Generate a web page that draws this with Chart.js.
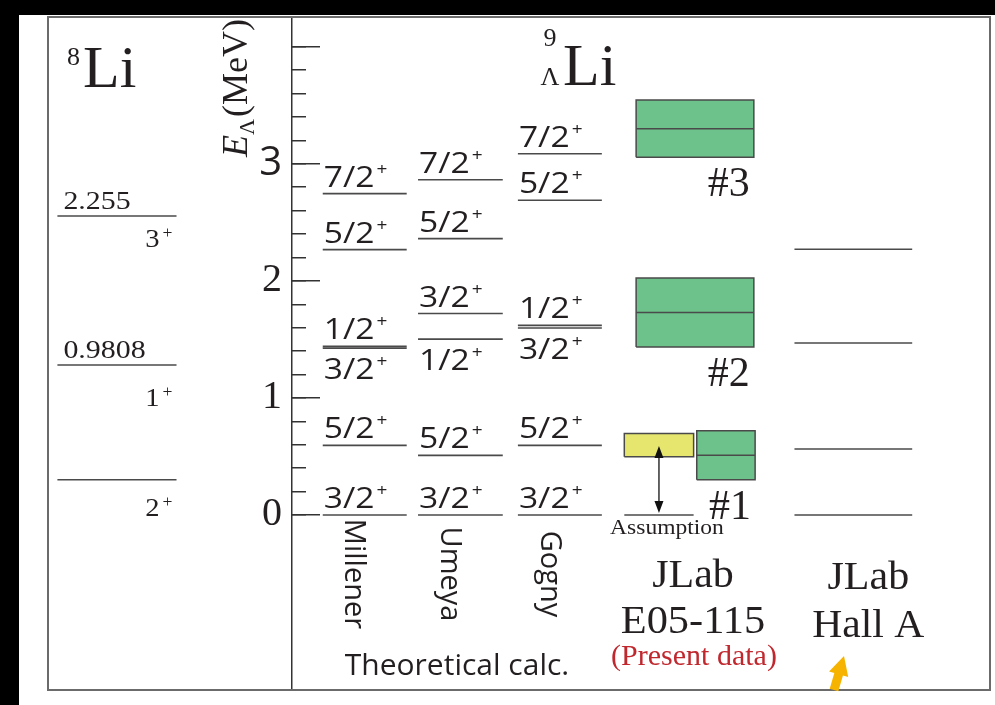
<!DOCTYPE html>
<html>
<head>
<meta charset="utf-8">
<title>9ΛLi level scheme</title>
<script src="https://cdn.jsdelivr.net/npm/chart.js@4.4.1/dist/chart.umd.min.js"></script>
<style>
  html, body { margin: 0; padding: 0; background: #000; }
  canvas { display: block; }
</style>
</head>
<body>
<canvas id="grafico" width="995" height="705"></canvas>
<script>
// ===== Data (MeV) =====
const li8Energy = [0, 0.9808, 2.255];
const li8Spin = ['2+', '1+', '3+'];
const li8Value = ['', '0.9808', '2.255'];
const li8Shift = 0.30; // the 8Li core scheme is drawn shifted up

const theoryNames = ['Millener', 'Umeya', 'Gogny'];
const millenerE = [0, 0.595, 1.425, 1.440, 2.267, 2.745];
const millenerJ = ['3/2+', '5/2+', '3/2+', '1/2+', '5/2+', '7/2+'];
const umeyaE = [0, 0.509, 1.502, 1.721, 2.361, 2.864];
const umeyaJ = ['3/2+', '5/2+', '1/2+', '3/2+', '5/2+', '7/2+'];
const gognyE = [0, 0.595, 1.597, 1.620, 2.688, 3.086];
const gognyJ = ['3/2+', '5/2+', '3/2+', '1/2+', '5/2+', '7/2+'];

const peakNames = ['#1', '#2', '#3'];
const peakE = [0.51, 1.73, 3.30];
const peakErr = [0.21, 0.295, 0.245];
const assumedE = 0.597;
const assumedErr = 0.10;

const hallAE = [0, 0.563, 1.470, 2.270];

const majorTicks = [0, 1, 2, 3, 4];
const majorLabels = ['0', '1', '2', '3', ''];
const minorTicks = [0, 0.2, 0.4, 0.6, 0.8, 1, 1.2, 1.4, 1.6, 1.8, 2, 2.2, 2.4, 2.6, 2.8, 3, 3.2, 3.4, 3.6, 3.8, 4];

// ===== Layout (column positions in x-scale units) =====
const FRAME_LEFT = 48;
const li8Col = { x: -1.543, half: 0.61 };
const theoryCols = [{ x: 0.995, half: 0.43 }, { x: 1.975, half: 0.434 }, { x: 2.994, half: 0.43 }];
const theorySide = ['up', 'up', 'down', 'up', 'up', 'up'];
const li8SpinDy = [36, 41, 31];
const jlabX = 4.378, wideHalf = 0.603;
const peak1 = { x: 4.695, half: 0.299 };
const yellow = { x: 4.009, half: 0.355 };
const hallAX = 6.0;

const INK = '#231f20';
const LEVEL = '#4a4a4a';
const GREEN = '#6cc28a';
const YELLOW = '#e6e66e';

// ===== Datasets =====
const datasets = [];
function addLevel(xc, half, e, width = 1.7) {
  datasets.push({
    data: [{ x: xc - half, y: e }, { x: xc + half, y: e }],
    borderColor: LEVEL, borderWidth: width, pointRadius: 0, clip: false, order: 1
  });
}
function addBox(xc, half, e, err, color) {
  datasets.push({
    data: [
      { x: xc - half, y: e - err }, { x: xc + half, y: e - err },
      { x: xc + half, y: e + err }, { x: xc - half, y: e + err },
      { x: xc - half, y: e - err }
    ],
    borderColor: '#4a4a4a', borderWidth: 1.5, backgroundColor: color,
    fill: 'shape', pointRadius: 0, order: 2
  });
}

li8Energy.forEach(e => addLevel(li8Col.x, li8Col.half, e + li8Shift, 1.5));
[millenerE, umeyaE, gognyE].forEach((arr, c) => {
  arr.forEach(e => addLevel(theoryCols[c].x, theoryCols[c].half, e, 1.6));
});
peakE.forEach((e, i) => {
  const col = i === 0 ? peak1 : { x: jlabX, half: wideHalf };
  addBox(col.x, col.half, e, peakErr[i], GREEN);
  addLevel(col.x, col.half, e, 1.4);
});
addBox(yellow.x, yellow.half, assumedE, assumedErr, YELLOW);
addLevel(yellow.x, yellow.half, 0, 1.5);
hallAE.forEach(e => addLevel(hallAX, wideHalf, e, 1.5));

// ===== Text helpers =====
function txt(ctx, s, x, y, font, o = {}) {
  ctx.save();
  ctx.translate(x, y);
  if (o.rot) ctx.rotate(o.rot);
  ctx.scale(o.sx || 1, 1);
  ctx.font = font;
  ctx.fillStyle = o.color || INK;
  ctx.textAlign = o.align || 'left';
  ctx.textBaseline = o.base || 'alphabetic';
  ctx.fillText(s, 0, 0);
  const w = ctx.measureText(s).width * (o.sx || 1);
  ctx.restore();
  return w;
}
function spinLabel(ctx, s, x, y, st, align) {
  const main = s.slice(0, -1), sign = s.slice(-1);
  ctx.save();
  ctx.font = st.font; const wm = ctx.measureText(main).width * st.sx;
  ctx.font = st.sup; const ws = ctx.measureText(sign).width * st.sx;
  ctx.restore();
  const x0 = align === 'right' ? x - wm - st.gap - ws : x;
  txt(ctx, main, x0, y, st.font, { sx: st.sx });
  txt(ctx, sign, x0 + wm + st.gap, y - st.raise, st.sup, { sx: st.sx });
}
const sansSpin = { font: '30px "Open Sans"', sup: '17px "Open Sans"', sx: 1.12, gap: 2, raise: 12 };
const serifSpin = { font: '26px "Liberation Serif"', sup: '16px "Liberation Serif"', sx: 1.1, gap: 3, raise: 9 };

function arrow(ctx, x0, y0, x1, y1, headLen, headHalf, shaftHalf, color) {
  const dx = x1 - x0, dy = y1 - y0, L = Math.hypot(dx, dy);
  const ux = dx / L, uy = dy / L, nx = -uy, ny = ux;
  const bx = x1 - ux * headLen, by = y1 - uy * headLen;
  ctx.save();
  ctx.fillStyle = color;
  ctx.beginPath();
  ctx.moveTo(x0 + nx * shaftHalf, y0 + ny * shaftHalf);
  ctx.lineTo(bx + nx * shaftHalf, by + ny * shaftHalf);
  ctx.lineTo(bx + nx * headHalf, by + ny * headHalf);
  ctx.lineTo(x1, y1);
  ctx.lineTo(bx - nx * headHalf, by - ny * headHalf);
  ctx.lineTo(bx - nx * shaftHalf, by - ny * shaftHalf);
  ctx.lineTo(x0 - nx * shaftHalf, y0 - ny * shaftHalf);
  ctx.closePath();
  ctx.fill();
  ctx.restore();
}

// ===== Plugin: background, frame and annotations =====
const decor = {
  id: 'decor',
  beforeDraw(chart) {
    const { ctx, width, height } = chart;
    ctx.save();
    ctx.fillStyle = '#000';
    ctx.fillRect(0, 0, width, height);
    ctx.fillStyle = '#fff';
    ctx.fillRect(19, 15, width - 19, height - 15);
    ctx.restore();
  },
  afterDraw(chart) {
    const { ctx, chartArea: ca, scales: { x, y } } = chart;
    const px = v => x.getPixelForValue(v), py = v => y.getPixelForValue(v);

    // frame
    ctx.save();
    ctx.strokeStyle = '#6b6b6b';
    ctx.lineWidth = 2;
    ctx.strokeRect(FRAME_LEFT, ca.top, ca.right - FRAME_LEFT, ca.bottom - ca.top);
    ctx.restore();

    // 8Li
    txt(ctx, '8', 67, 65, '26px "Liberation Serif"');
    txt(ctx, 'Li', 83, 87, '60px "Liberation Serif"');
    const l8L = px(li8Col.x - li8Col.half), l8R = px(li8Col.x + li8Col.half);
    li8Energy.forEach((e, i) => {
      const yy = py(e + li8Shift);
      if (li8Value[i]) txt(ctx, li8Value[i], l8L + 6, yy - 7, '26px "Liberation Serif"', { sx: 1.15 });
      spinLabel(ctx, li8Spin[i], l8R - 4, yy + li8SpinDy[i], serifSpin, 'right');
    });

    // axis title E_Λ (MeV)
    ctx.save();
    ctx.translate(247, 157);
    ctx.rotate(-Math.PI / 2);
    ctx.fillStyle = INK;
    ctx.font = 'italic 36px "Liberation Serif"';
    ctx.fillText('E', 0, 0);
    let w = ctx.measureText('E').width;
    ctx.font = '22px "Liberation Serif"';
    ctx.fillText('Λ', w, 7);
    w += ctx.measureText('Λ').width + 2;
    ctx.font = '36px "Liberation Serif"';
    ctx.fillText('(MeV)', w, 0);
    ctx.restore();

    // 9ΛLi
    txt(ctx, '9', 550, 46, '26px "Liberation Serif"', { align: 'center' });
    txt(ctx, 'Λ', 550, 85, '26px "Liberation Serif"', { align: 'center' });
    txt(ctx, 'Li', 563, 85, '60px "Liberation Serif"');

    // theory spin labels
    [[millenerE, millenerJ], [umeyaE, umeyaJ], [gognyE, gognyJ]].forEach(([es, js], c) => {
      const left = px(theoryCols[c].x - theoryCols[c].half) + 1;
      es.forEach((e, i) => {
        const yy = py(e);
        const by = theorySide[i] === 'up' ? yy - 7 : yy + 31;
        spinLabel(ctx, js[i], left, by, sansSpin, 'left');
      });
      txt(ctx, theoryNames[c], px(theoryCols[c].x) - 11, 574, '29px "Open Sans"',
        { rot: Math.PI / 2, align: 'center', base: 'middle' });
    });
    txt(ctx, 'Theoretical calc.', 457, 675, '30px "Open Sans"', { align: 'center' });

    // peak labels
    peakNames.forEach((n, i) => {
      const col = i === 0 ? peak1 : { x: jlabX, half: wideHalf };
      txt(ctx, n, px(col.x + col.half) - 4, py(peakE[i] - peakErr[i]) + 39,
        '42px "Liberation Serif"', { align: 'right' });
    });

    // assumption arrow
    const ax = px(yellow.x);
    const yTop = py(assumedE) + 1, yBot = py(0) - 2;
    ctx.save();
    ctx.strokeStyle = '#111';
    ctx.lineWidth = 1.3;
    ctx.beginPath();
    ctx.moveTo(ax, yTop + 8);
    ctx.lineTo(ax, yBot - 8);
    ctx.stroke();
    ctx.restore();
    arrow(ctx, ax, yTop + 14, ax, yTop, 12, 4.5, 0, '#111');
    arrow(ctx, ax, yBot - 14, ax, yBot, 12, 4.5, 0, '#111');
    txt(ctx, 'Assumption', px(yellow.x) + 8, 534, '21px "Liberation Serif"', { align: 'center', sx: 1.12 });

    // experiment labels
    const jx = px(jlabX) - 2;
    txt(ctx, 'JLab', jx, 587, '40px "Liberation Serif"', { align: 'center', sx: 1.05 });
    txt(ctx, 'E05-115', jx, 633, '40px "Liberation Serif"', { align: 'center', sx: 1.06 });
    txt(ctx, '(Present data)', jx + 1, 665, '30px "Liberation Serif"', { align: 'center', color: '#c0282e' });
    const hx = px(hallAX) + 15;
    txt(ctx, 'JLab', hx, 589, '40px "Liberation Serif"', { align: 'center', sx: 1.05 });
    txt(ctx, 'Hall A', hx, 637, '40px "Liberation Serif"', { align: 'center', sx: 1.04 });

    // orange pointer
    arrow(ctx, 834, 690, 844, 656, 19, 10, 4.5, '#f6b400');
  }
};

// ===== Chart =====
const yMin = -1.495, yMax = 4.254;
new Chart(document.getElementById('grafico'), {
  type: 'line',
  data: { datasets },
  options: {
    responsive: false,
    animation: false,
    devicePixelRatio: 1,
    layout: { padding: { left: FRAME_LEFT, top: 17, right: 5, bottom: 15 } },
    plugins: { legend: { display: false }, tooltip: { enabled: false } },
    elements: { line: { tension: 0 } },
    scales: {
      x: { type: 'linear', min: 0.25, max: 7.4, display: false },
      y: {
        type: 'linear', position: 'left', weight: 1, min: yMin, max: yMax,
        afterBuildTicks: s => { s.ticks = majorTicks.map(v => ({ value: v })); },
        afterFit: s => { s.width = 292 - FRAME_LEFT; s.paddingTop = 0; s.paddingBottom = 0; },
        ticks: {
          autoSkip: false, padding: 38, color: INK,
          callback: (v) => majorLabels[majorTicks.indexOf(v)],
          font: c => (c.tick && c.tick.value === 3)
            ? { family: 'Open Sans', size: 40 }
            : { family: 'Liberation Serif', size: 40 }
        },
        grid: { drawOnChartArea: false, drawTicks: true, tickLength: -28, color: '#333', lineWidth: 1.5 },
        border: { display: true, color: '#333', width: 1.5 }
      },
      yMinor: {
        type: 'linear', position: 'left', weight: 0, min: yMin, max: yMax,
        afterBuildTicks: s => { s.ticks = minorTicks.map(v => ({ value: v })); },
        afterFit: s => { s.width = 0; s.paddingTop = 0; s.paddingBottom = 0; },
        ticks: { display: false },
        grid: { drawOnChartArea: false, drawTicks: true, tickLength: -14, color: '#333', lineWidth: 1.5 },
        border: { display: false }
      }
    }
  },
  plugins: [decor]
});
</script>
</body>
</html>
